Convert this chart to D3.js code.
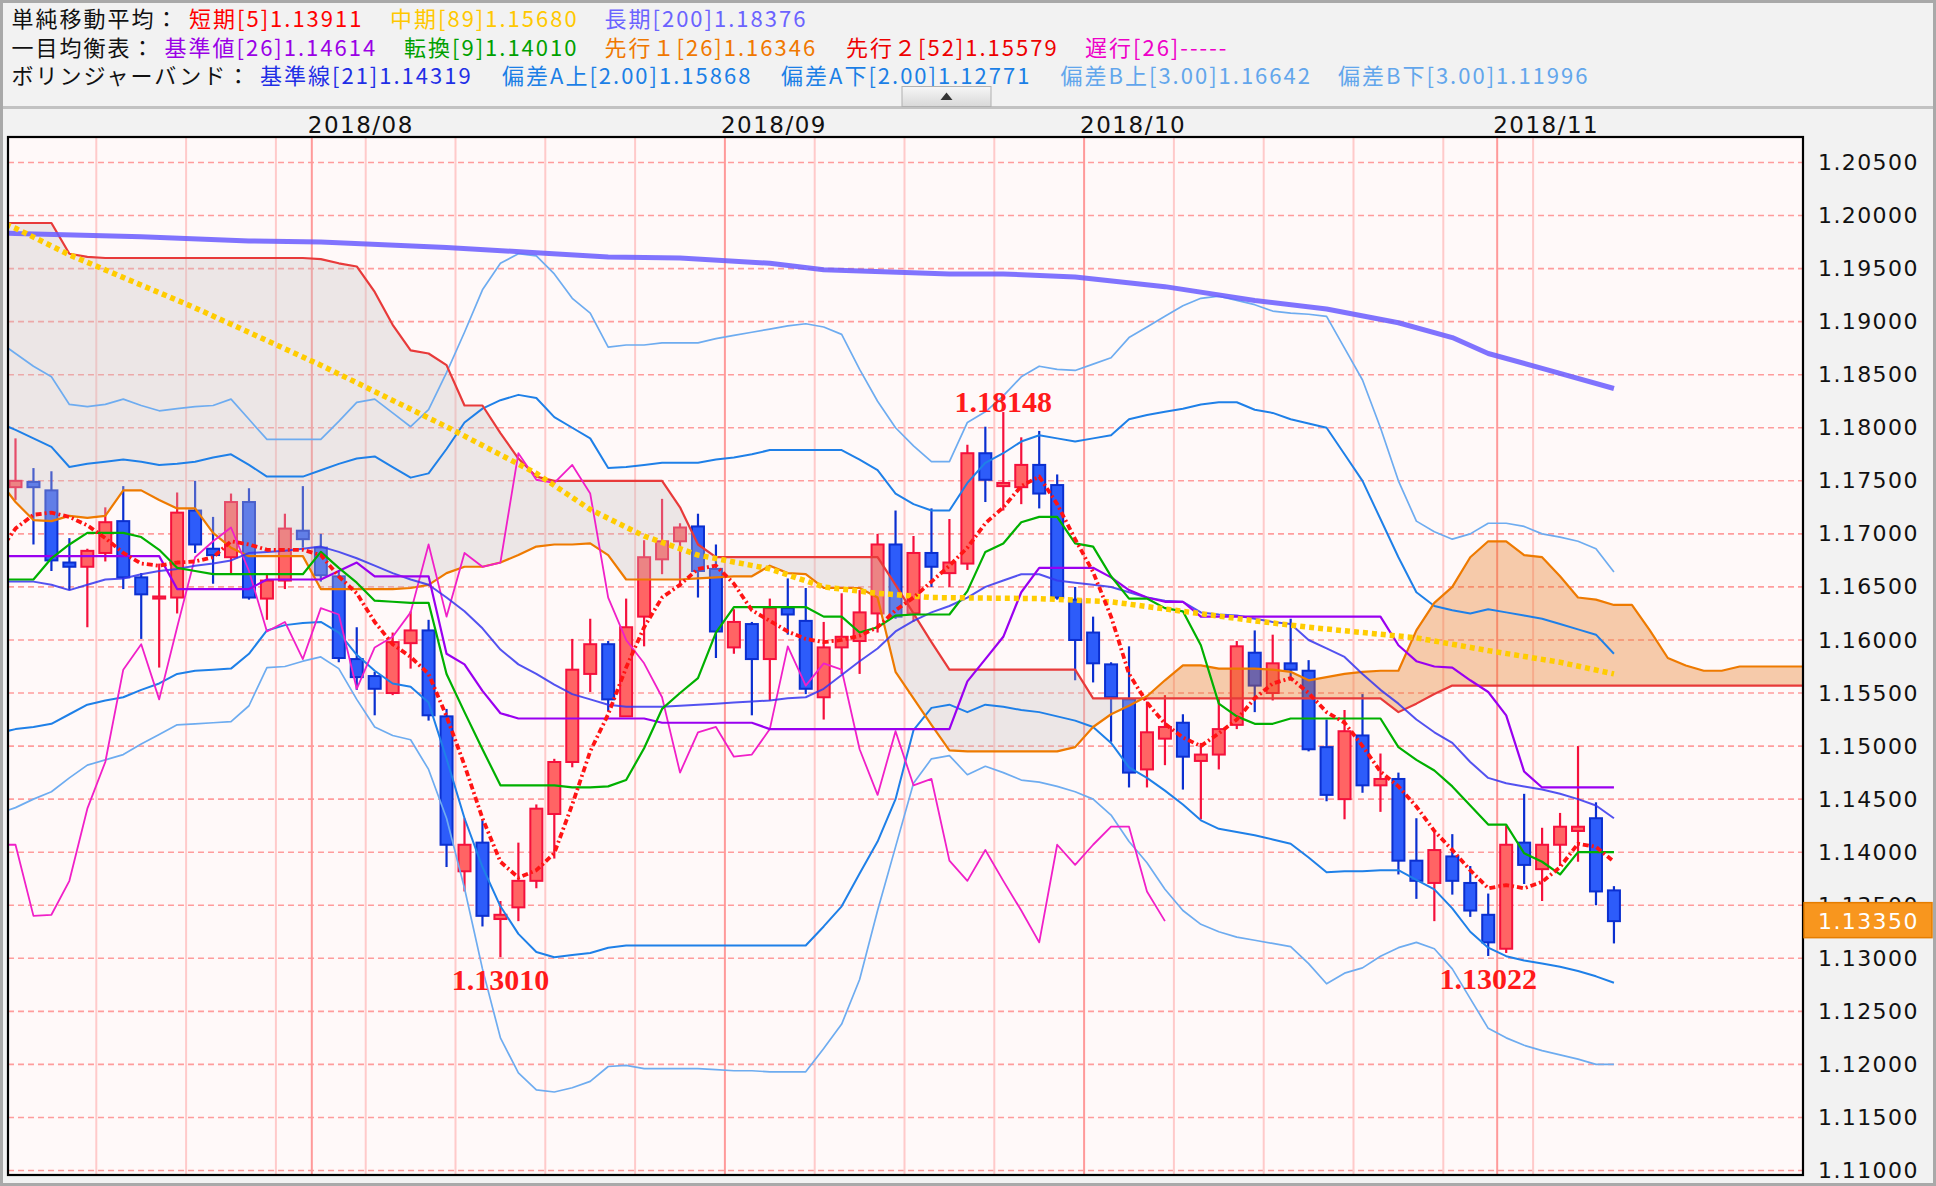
<!DOCTYPE html>
<html><head><meta charset="utf-8">
<script src="https://cdn.jsdelivr.net/npm/d3@7/dist/d3.min.js"></script>
<style>
html,body{margin:0;padding:0;background:#f2f2f2;}
svg{display:block;}
</style></head><body>
<svg id="c" width="1936" height="1186"></svg>
<script>
// ---------------- DATA ----------------
// daily candles, index 0 = 2018-07-09 ... index 89 = 2018-11-09
const opens = [1.1744,1.1749,1.1741,1.1673,1.1669,1.1682,1.1712,1.1659,1.1639,1.1640,1.1722,1.1686,1.1678,1.1730,1.1639,1.1656,1.1703,1.1687,1.1660,1.1582,1.1566,1.1550,1.1597,1.1609,1.1528,1.1382,1.1409,1.1337,1.1348,1.1373,1.1436,1.1485,1.1568,1.1596,1.1528,1.1622,1.1676,1.1693,1.1707,1.1667,1.1593,1.1615,1.1582,1.1630,1.1618,1.1546,1.1593,1.1599,1.1625,1.1690,1.1625,1.1682,1.1663,1.1672,1.1776,1.1745,1.1744,1.1765,1.1746,1.1638,1.1607,1.1577,1.1544,1.1478,1.1507,1.1522,1.1486,1.1492,1.1520,1.1588,1.1550,1.1578,1.1571,1.1499,1.1450,1.1510,1.1463,1.1469,1.1392,1.1371,1.1396,1.1371,1.1341,1.1309,1.1409,1.1384,1.1407,1.1420,1.1432,1.1364];
const highs = [1.1790,1.1762,1.1759,1.1696,1.1686,1.1725,1.1745,1.1663,1.1672,1.1739,1.1750,1.1716,1.1738,1.1743,1.1663,1.1719,1.1745,1.1700,1.1664,1.1612,1.1570,1.1607,1.1627,1.1619,1.1535,1.1432,1.1430,1.1354,1.1409,1.1445,1.1488,1.1601,1.1620,1.1599,1.1639,1.1694,1.1733,1.1710,1.1719,1.1690,1.1629,1.1617,1.1639,1.1658,1.1649,1.1617,1.1644,1.1647,1.1700,1.1722,1.1698,1.1724,1.1714,1.1784,1.1801,1.18148,1.1791,1.1797,1.1756,1.1650,1.1622,1.1579,1.1594,1.1542,1.1548,1.1530,1.1503,1.1546,1.1599,1.1609,1.1605,1.1620,1.1581,1.1525,1.1534,1.1549,1.1493,1.1475,1.1432,1.1420,1.1417,1.1387,1.1361,1.1425,1.1455,1.1423,1.1437,1.1500,1.1447,1.1368];
const lows = [1.1732,1.1690,1.1665,1.1647,1.1612,1.1674,1.1648,1.1601,1.1574,1.1625,1.1682,1.1653,1.1662,1.1638,1.1619,1.1648,1.1687,1.1655,1.1579,1.1553,1.1529,1.1548,1.1573,1.1524,1.1386,1.1363,1.1330,1.1301,1.1335,1.1366,1.1394,1.1480,1.1551,1.1533,1.1528,1.1594,1.1662,1.1650,1.1640,1.1583,1.1587,1.1529,1.1543,1.1605,1.1549,1.1525,1.1568,1.1568,1.1607,1.1620,1.1617,1.1650,1.1650,1.1666,1.1730,1.1722,1.1728,1.1724,1.1638,1.1562,1.1560,1.1504,1.1461,1.1461,1.1482,1.1459,1.1431,1.1478,1.1516,1.1532,1.1543,1.1565,1.1495,1.1448,1.1431,1.1456,1.1438,1.1379,1.1356,1.1335,1.1360,1.1339,1.13022,1.1305,1.1370,1.1354,1.1387,1.1391,1.1350,1.1314];
const closes = [1.1750,1.1744,1.1675,1.1669,1.1684,1.1711,1.1659,1.1643,1.1641,1.1720,1.1690,1.1680,1.1730,1.1640,1.1656,1.1705,1.1695,1.1661,1.1583,1.1565,1.1554,1.1598,1.1609,1.1529,1.1407,1.1407,1.1340,1.1341,1.1373,1.1441,1.1485,1.1572,1.1596,1.1544,1.1612,1.1678,1.1693,1.1706,1.1665,1.1608,1.1617,1.1582,1.1630,1.1624,1.1554,1.1593,1.1603,1.1626,1.1690,1.1622,1.1682,1.1669,1.1673,1.1776,1.1751,1.1748,1.1765,1.1738,1.1640,1.1600,1.1578,1.1546,1.1475,1.1513,1.1518,1.1490,1.1492,1.1516,1.1594,1.1557,1.1578,1.1572,1.1497,1.1454,1.1514,1.1463,1.1469,1.1392,1.1373,1.1402,1.1373,1.1345,1.1315,1.1407,1.1388,1.1407,1.1424,1.1424,1.1363,1.1335];

// indicator lines; the first value of each array is at candle index -1
const sma5 = [1.1681,1.1705,1.1718,1.1720,1.1716,1.1708,1.1696,1.1682,1.1672,1.1670,1.1673,1.1674,1.1678,1.1693,1.1690,1.1685,1.1685,1.1685,1.1680,1.1660,1.1644,1.1617,1.1596,1.1584,1.1568,1.1528,1.1482,1.1432,1.1391,1.1376,1.1383,1.1399,1.1445,1.1495,1.1530,1.1574,1.1612,1.1640,1.1652,1.1667,1.1670,1.1653,1.1628,1.1618,1.1608,1.1601,1.1598,1.1600,1.1604,1.1612,1.1628,1.1640,1.1655,1.1670,1.1687,1.1710,1.1725,1.1745,1.1754,1.1728,1.1695,1.1664,1.1622,1.1568,1.1541,1.1521,1.1508,1.1500,1.1512,1.1525,1.1545,1.1559,1.1564,1.1550,1.1532,1.1522,1.1500,1.1476,1.1462,1.1443,1.1420,1.1402,1.1383,1.1366,1.1369,1.1366,1.1372,1.1386,1.1408,1.1405,1.1391];
const tenkan = [1.1657,1.1657,1.1657,1.1677,1.1690,1.1701,1.1701,1.1701,1.1697,1.1685,1.1668,1.1665,1.1662,1.1662,1.1662,1.1662,1.1662,1.1662,1.1683,1.1668,1.1654,1.1637,1.1636,1.1635,1.1635,1.1568,1.1532,1.1497,1.1463,1.1463,1.1463,1.1463,1.1461,1.1461,1.1462,1.1468,1.1498,1.1535,1.1550,1.1564,1.1607,1.1631,1.1631,1.1631,1.1631,1.1631,1.1622,1.1622,1.1607,1.1612,1.1623,1.1624,1.1624,1.1624,1.1646,1.1683,1.1691,1.1711,1.1716,1.1716,1.1691,1.1688,1.1660,1.1639,1.1639,1.1630,1.1627,1.1595,1.1540,1.1528,1.1521,1.1521,1.1526,1.1526,1.1526,1.1526,1.1526,1.1526,1.1499,1.1487,1.1477,1.1462,1.1444,1.1426,1.1426,1.1399,1.1391,1.1379,1.1400,1.1400,1.1400];
const kijun = [1.1679,1.1679,1.1679,1.1679,1.1679,1.1679,1.1679,1.1679,1.1679,1.1679,1.1648,1.1648,1.1648,1.1648,1.1648,1.1657,1.1657,1.1657,1.1657,1.1665,1.1673,1.1660,1.1660,1.1660,1.1660,1.1587,1.1577,1.1552,1.1531,1.1526,1.1526,1.1526,1.1526,1.1526,1.1526,1.1526,1.1526,1.1522,1.1522,1.1522,1.1522,1.1522,1.1522,1.1516,1.1516,1.1516,1.1516,1.1516,1.1516,1.1516,1.1516,1.1516,1.1516,1.1516,1.1561,1.1582,1.1603,1.1645,1.1668,1.1668,1.1668,1.1668,1.1659,1.1647,1.1640,1.1636,1.1636,1.1622,1.1622,1.1622,1.1622,1.1622,1.1622,1.1622,1.1622,1.1622,1.1622,1.1622,1.1595,1.1580,1.1575,1.1574,1.1562,1.1551,1.1529,1.1476,1.1461,1.1461,1.1461,1.1461,1.1461];
// leading spans, index -1 ... 100
const senkouA = [1.1752,1.1730,1.1713,1.1712,1.1717,1.1715,1.1717,1.1741,1.1741,1.1732,1.1724,1.1724,1.1701,1.1687,1.1679,1.1679,1.1679,1.1679,1.1648,1.1648,1.1648,1.1648,1.1648,1.1649,1.1652,1.1663,1.1669,1.1669,1.1673,1.1680,1.1688,1.1690,1.1690,1.1691,1.1680,1.1657,1.1657,1.1657,1.1657,1.1658,1.1659,1.1660,1.1660,1.1670,1.1663,1.1662,1.1649,1.1649,1.1649,1.1640,1.1570,1.1545,1.1520,1.1496,1.1495,1.1495,1.1495,1.1495,1.1495,1.1495,1.1499,1.1518,1.1530,1.1538,1.1547,1.1562,1.1576,1.1576,1.1573,1.1573,1.1573,1.1572,1.1570,1.1562,1.1565,1.1568,1.1570,1.1571,1.1571,1.1609,1.1635,1.1650,1.1678,1.1693,1.1693,1.1680,1.1678,1.1660,1.1640,1.1638,1.1633,1.1633,1.1609,1.1583,1.1576,1.1571,1.1571,1.1575,1.1575,1.1575,1.1575,1.1575];
const senkouB = [1.1993,1.1993,1.1993,1.1993,1.1964,1.1961,1.1960,1.1960,1.1960,1.1960,1.1960,1.1960,1.1960,1.1960,1.1960,1.1960,1.1960,1.1960,1.1959,1.1955,1.1952,1.1928,1.1897,1.1873,1.1870,1.1859,1.1821,1.1821,1.1795,1.1771,1.1754,1.1750,1.1750,1.1750,1.1750,1.1750,1.1750,1.1750,1.1725,1.1690,1.1678,1.1678,1.1678,1.1678,1.1678,1.1678,1.1678,1.1678,1.1678,1.1678,1.1652,1.1625,1.1598,1.1572,1.1572,1.1572,1.1572,1.1572,1.1572,1.1572,1.1572,1.1545,1.1545,1.1545,1.1545,1.1545,1.1545,1.1545,1.1545,1.1545,1.1545,1.1545,1.1545,1.1545,1.1545,1.1545,1.1545,1.1545,1.1532,1.1540,1.1549,1.1557,1.1557,1.1557,1.1557,1.1557,1.1557,1.1557,1.1557,1.1557,1.1557,1.1557,1.1557,1.1557,1.1557,1.1557,1.1557,1.1557,1.1557,1.1557,1.1557,1.1557];
// lagging span, index -1 ... 64
const chikou = [1.1407,1.1407,1.1340,1.1341,1.1373,1.1441,1.1485,1.1572,1.1596,1.1544,1.1612,1.1678,1.1693,1.1706,1.1665,1.1608,1.1617,1.1582,1.1630,1.1624,1.1554,1.1593,1.1603,1.1626,1.1690,1.1622,1.1682,1.1669,1.1673,1.1776,1.1751,1.1748,1.1765,1.1738,1.1640,1.1600,1.1578,1.1546,1.1475,1.1513,1.1518,1.1490,1.1492,1.1516,1.1594,1.1557,1.1578,1.1572,1.1497,1.1454,1.1514,1.1463,1.1469,1.1392,1.1373,1.1402,1.1373,1.1345,1.1315,1.1407,1.1388,1.1407,1.1424,1.1424,1.1363,1.1335];
// Bollinger bands, index -1 ... 89
const bbMid = [1.1655,1.1655,1.1655,1.1652,1.1647,1.1652,1.1657,1.1658,1.1662,1.1665,1.1667,1.1670,1.1672,1.1675,1.1682,1.1683,1.1684,1.1686,1.1688,1.1683,1.1677,1.1670,1.1663,1.1657,1.1652,1.1640,1.1627,1.1611,1.1591,1.1577,1.1568,1.1558,1.1549,1.1544,1.1539,1.1537,1.1537,1.1537,1.1538,1.1539,1.1540,1.1541,1.1542,1.1543,1.1545,1.1546,1.1554,1.1567,1.1580,1.1592,1.1608,1.1618,1.1626,1.1632,1.1640,1.1650,1.1656,1.1662,1.1662,1.1656,1.1654,1.1652,1.1650,1.1645,1.1640,1.1637,1.1636,1.1626,1.1624,1.1623,1.1620,1.1617,1.1615,1.1600,1.1592,1.1584,1.1568,1.1553,1.1540,1.1525,1.1513,1.1503,1.1485,1.1470,1.1465,1.1462,1.1459,1.1455,1.1450,1.1444,1.1432];
const bbUp2 = [1.1805,1.1798,1.1790,1.1782,1.1763,1.1766,1.1768,1.1770,1.1768,1.1765,1.1766,1.1768,1.1772,1.1775,1.1765,1.1754,1.1754,1.1754,1.1760,1.1766,1.1771,1.1773,1.1763,1.1753,1.1757,1.1780,1.1805,1.1818,1.1826,1.1831,1.1828,1.1810,1.1800,1.1790,1.1762,1.1763,1.1765,1.1767,1.1767,1.1767,1.1770,1.1772,1.1775,1.1779,1.1779,1.1779,1.1779,1.1779,1.1770,1.1760,1.1738,1.1728,1.1722,1.1722,1.1748,1.1767,1.1776,1.1787,1.1793,1.1790,1.1787,1.1790,1.1793,1.1808,1.1812,1.1815,1.1818,1.1822,1.1824,1.1824,1.1817,1.1814,1.1808,1.1804,1.1800,1.1775,1.1750,1.1714,1.1678,1.1645,1.1632,1.1628,1.1625,1.1629,1.1626,1.1623,1.1620,1.1615,1.1610,1.1605,1.1587];
const bbUp3 = [1.1882,1.1870,1.1858,1.1848,1.1822,1.1820,1.1822,1.1827,1.1821,1.1816,1.1818,1.1820,1.1821,1.1827,1.1808,1.1789,1.1789,1.1789,1.1789,1.1806,1.1824,1.1827,1.1814,1.1801,1.1817,1.1852,1.1890,1.1930,1.1955,1.1964,1.1962,1.1945,1.1922,1.1908,1.1876,1.1878,1.1878,1.1880,1.1880,1.1880,1.1884,1.1887,1.1890,1.1893,1.1896,1.1898,1.1895,1.1888,1.1855,1.1825,1.1800,1.1783,1.1768,1.1768,1.1805,1.1815,1.1830,1.1848,1.1858,1.1855,1.1854,1.1860,1.1866,1.1885,1.1895,1.1905,1.1915,1.1922,1.1924,1.1920,1.1916,1.1910,1.1908,1.1907,1.1905,1.1875,1.1845,1.1800,1.1750,1.1712,1.1702,1.1695,1.1700,1.1710,1.1710,1.1707,1.1700,1.1697,1.1693,1.1686,1.1664];
const bbDn2 = [1.1512,1.1516,1.1518,1.1521,1.1530,1.1539,1.1543,1.1546,1.1553,1.1559,1.1568,1.1571,1.1572,1.1573,1.1587,1.1609,1.1614,1.1616,1.1617,1.1607,1.1586,1.1571,1.1559,1.1556,1.1541,1.1488,1.1432,1.1386,1.1349,1.1323,1.1306,1.1301,1.1303,1.1305,1.1310,1.1312,1.1312,1.1312,1.1312,1.1312,1.1312,1.1312,1.1312,1.1312,1.1312,1.1312,1.1330,1.1349,1.1380,1.1410,1.1450,1.1515,1.1536,1.1539,1.1532,1.1539,1.1537,1.1534,1.1532,1.1528,1.1524,1.1518,1.1503,1.1480,1.1470,1.1458,1.1445,1.1430,1.1422,1.1419,1.1416,1.1412,1.1408,1.1395,1.1381,1.1382,1.1382,1.1383,1.1383,1.1374,1.1365,1.1347,1.1325,1.1310,1.1302,1.1298,1.1295,1.1292,1.1288,1.1283,1.1277];
const bbDn3 = [1.1436,1.1442,1.1450,1.1457,1.1470,1.1482,1.1487,1.1492,1.1502,1.1511,1.1520,1.1521,1.1522,1.1523,1.1538,1.1574,1.1575,1.1580,1.1584,1.1573,1.1544,1.1518,1.1510,1.1506,1.1478,1.1432,1.1366,1.1290,1.1225,1.1192,1.1176,1.1174,1.1178,1.1184,1.1198,1.1199,1.1196,1.1196,1.1196,1.1196,1.1195,1.1194,1.1194,1.1193,1.1193,1.1193,1.1215,1.1238,1.1280,1.1345,1.1405,1.1465,1.1488,1.1491,1.1473,1.1481,1.1475,1.1468,1.1466,1.1462,1.1457,1.1450,1.1435,1.1410,1.1390,1.1365,1.1345,1.1332,1.1325,1.1320,1.1317,1.1314,1.1311,1.1295,1.1276,1.1286,1.1291,1.1302,1.1310,1.1315,1.1309,1.1290,1.1262,1.1234,1.1225,1.1218,1.1213,1.1209,1.1205,1.1200,1.1200];
// smooth moving averages: vertices read as (candle index, value)
const sma89Idx = [-1,0,3,10,17,24,29,32,35,38,42,45,48,51,57,61,65,69,72,78,82,86,89];
const sma89Val = [1.1995,1.1988,1.1963,1.1913,1.1859,1.1801,1.1757,1.1723,1.1698,1.1680,1.1667,1.1650,1.1644,1.1640,1.1639,1.1636,1.1627,1.1618,1.1612,1.1602,1.1590,1.1579,1.1568];
const sma200Idx = [-1,0,7,13,17,24,29,33,37,42,45,52,55,59,64,69,73,77,80,82,85,89];
const sma200Val = [1.1984,1.1983,1.1980,1.1976,1.1975,1.1970,1.1965,1.1961,1.1960,1.1955,1.1949,1.1945,1.1945,1.1942,1.1933,1.1920,1.1912,1.1899,1.1885,1.1870,1.1856,1.1837];

const priceTicks = [1.205,1.2,1.195,1.19,1.185,1.18,1.175,1.17,1.165,1.16,1.155,1.15,1.145,1.14,1.135,1.13,1.125,1.12,1.115,1.11];
const monthLabels = ["2018/08","2018/09","2018/10","2018/11"];
const monthStartIdx = [17,40,60,83];
const weekStartIdx = [5,10,15,20,25,30,35,45,50,55,65,70,75,80,85];
const currentPrice = 1.13350;
const highMark = {i:55, v:1.18148};
const lowMarks = [{i:27, v:1.13010},{i:82, v:1.13022}];

const legendRows = [
  [["単純移動平均：","#111"],["短期[5]1.13911","#ff0000"],["中期[89]1.15680","#ffc800"],["長期[200]1.18376","#6b63ff"]],
  [["一目均衡表：","#111"],["基準値[26]1.14614","#9a00e6"],["転換[9]1.14010","#00a000"],["先行１[26]1.16346","#f07800"],["先行２[52]1.15579","#ee0000"],["遅行[26]-----","#ee00c8"]],
  [["ボリンジャーバンド：","#111"],["基準線[21]1.14319","#1f2fe6"],["偏差A上[2.00]1.15868","#1b7fe6"],["偏差A下[2.00]1.12771","#1b7fe6"],["偏差B上[3.00]1.16642","#62a6ec"],["偏差B下[3.00]1.11996","#62a6ec"]]
];
// layout of legend items (x positions)
const legendX = [[11.5,189,390,604.5],[11.5,164.5,404,604.5,846,1085],[11.5,260,502,781,1060.5,1338]];
const legendY = [27,55.5,84];

// ---------------- DRAW ----------------
const svg = d3.select("#c");
const P = {l:8, t:137, r:1803, b:1175};
const x = d3.scaleLinear().domain([0,89]).range([15.5, 15.5+17.96*89]);
const y = d3.scaleLinear().domain([1.11,1.205]).range([1170.5,162.5]);

svg.append("rect").attr("width",1936).attr("height",1186).attr("fill","#f2f2f2");

// header
const hdr = svg.append("g").attr("font-family","'Noto Sans CJK JP','Noto Sans',sans-serif").attr("font-size",22).attr("letter-spacing","2px");
legendRows.forEach((row,r)=>{
  row.forEach((item,k)=>{
    hdr.append("text").attr("x",legendX[r][k]).attr("y",legendY[r]).attr("fill",item[1]).text(item[0]);
  });
});
svg.append("line").attr("x1",0).attr("x2",1936).attr("y1",107.5).attr("y2",107.5).attr("stroke","#c2c2c2").attr("stroke-width",3);
// collapse button
const defs = svg.append("defs");
const grad = defs.append("linearGradient").attr("id","bg").attr("x1",0).attr("x2",0).attr("y1",0).attr("y2",1);
grad.append("stop").attr("offset","0%").attr("stop-color","#f6f6f6");
grad.append("stop").attr("offset","100%").attr("stop-color","#d9d9d9");
svg.append("rect").attr("x",902).attr("y",86.5).attr("width",89).attr("height",20).attr("fill","url(#bg)").attr("stroke","#b0b0b0");
svg.append("path").attr("d","M940.5,100 L946.5,92.5 L952.5,100 Z").attr("fill","#333");

// plot background
svg.append("rect").attr("x",P.l).attr("y",P.t).attr("width",P.r-P.l).attr("height",P.b-P.t).attr("fill","#fff9f9");
defs.append("clipPath").attr("id","pc").append("rect").attr("x",P.l+1).attr("y",P.t+1).attr("width",P.r-P.l-2).attr("height",P.b-P.t-2);
const g = svg.append("g").attr("clip-path","url(#pc)");

// grid
g.selectAll("line.h").data(priceTicks).join("line").attr("class","h")
  .attr("x1",P.l).attr("x2",P.r).attr("y1",d=>y(d)).attr("y2",d=>y(d))
  .attr("stroke","#ff9d9d").attr("stroke-width",1.6).attr("stroke-dasharray","6,4");
g.selectAll("line.w").data(weekStartIdx).join("line").attr("class","w")
  .attr("x1",d=>x(d)-9).attr("x2",d=>x(d)-9).attr("y1",P.t).attr("y2",P.b)
  .attr("stroke","#ffcaca").attr("stroke-width",2);
g.selectAll("line.m").data(monthStartIdx).join("line").attr("class","m")
  .attr("x1",d=>x(d)-9).attr("x2",d=>x(d)-9).attr("y1",P.t).attr("y2",P.b)
  .attr("stroke","#ff9a9a").attr("stroke-width",2);

// candles
const candles = opens.map((o,i)=>({i,o,h:highs[i],l:lows[i],c:closes[i]}));
const cg = g.append("g");
candles.forEach(d=>{
  const up = d.c>=d.o;
  const stroke = up? "#f5103c" : "#0b2fd0";
  const fill = up? "#ff6464" : "#2d5cfa";
  cg.append("line").attr("x1",x(d.i)).attr("x2",x(d.i)).attr("y1",y(d.h)).attr("y2",y(d.l)).attr("stroke",stroke).attr("stroke-width",2.2);
  const top = y(Math.max(d.o,d.c)), bot = y(Math.min(d.o,d.c));
  const hgt = Math.max(2, bot-top);
  cg.append("rect").attr("x",x(d.i)-6).attr("y",top).attr("width",12).attr("height",hgt)
    .attr("fill",fill).attr("stroke",stroke).attr("stroke-width",2);
});

// cloud
const cloud = senkouA.map((a,k)=>({i:k-1,a,b:senkouB[k]}));
defs.append("clipPath").attr("id","aboveB").append("path")
  .attr("d", d3.area().x(d=>x(d.i)).y0(P.t-5).y1(d=>y(d.b))(cloud));
defs.append("clipPath").attr("id","belowB").append("path")
  .attr("d", d3.area().x(d=>x(d.i)).y0(d=>y(d.b)).y1(P.b+5)(cloud));
const areaAB = d3.area().x(d=>x(d.i)).y0(d=>y(d.a)).y1(d=>y(d.b));
g.append("g").attr("clip-path","url(#aboveB)").append("path").attr("d",areaAB(cloud)).attr("fill","rgba(229,115,23,0.35)");
g.append("g").attr("clip-path","url(#belowB)").append("path").attr("d",areaAB(cloud)).attr("fill","rgba(200,194,194,0.34)");

// lines
const seq = (arr,start)=>arr.map((v,k)=>({i:k+start,v}));
const pairs = (idx,val)=>idx.map((i,k)=>({i,v:val[k]}));
const ln = d3.line().x(d=>x(d.i)).y(d=>y(d.v));
function drawLine(data, color, width, dash, opacity){
  const p = g.append("path").attr("d",ln(data)).attr("fill","none").attr("stroke",color).attr("stroke-width",width).attr("stroke-linejoin","round");
  if(dash) p.attr("stroke-dasharray",dash);
  if(opacity) p.attr("opacity",opacity);
}
drawLine(seq(bbUp3,-1),"#6eacf0",1.7);
drawLine(seq(bbDn3,-1),"#6eacf0",1.7);
drawLine(seq(bbUp2,-1),"#1f80e8",2);
drawLine(seq(bbDn2,-1),"#1f80e8",2);
drawLine(seq(senkouB,-1),"#e83a3a",2.2);
drawLine(seq(senkouA,-1),"#ee7a00",2.2);
drawLine(seq(chikou,-1),"#f020c8",1.8);
drawLine(seq(bbMid,-1),"#3535ee",2,null,0.85);
drawLine(seq(kijun,-1),"#9a00f0",2.2);
drawLine(seq(tenkan,-1),"#00b000",2.2);
drawLine(pairs(sma200Idx,sma200Val),"#6a5cff",5,null,0.85);
drawLine(pairs(sma89Idx,sma89Val),"#ffcc00",5.5,"5,4");
drawLine(seq(sma5,-1),"#ff1414",3.8,"6,3,2,3");

// price markers
const mg = g.append("g").attr("font-family","'Liberation Serif','DejaVu Serif',serif").attr("font-weight","bold").attr("font-size",30).attr("fill","#ff1a1a").attr("text-anchor","middle");
mg.append("text").attr("x",x(highMark.i)).attr("y",y(highMark.v)).text(highMark.v.toFixed(5));
lowMarks.forEach(m=>mg.append("text").attr("x",x(m.i)).attr("y",y(m.v)+33).text(m.v.toFixed(5)));

// plot frame
svg.append("rect").attr("x",P.l).attr("y",P.t).attr("width",P.r-P.l).attr("height",P.b-P.t).attr("fill","none").attr("stroke","#000").attr("stroke-width",2.2);

// y axis (right)
defs.append("clipPath").attr("id","ac").append("rect").attr("x",1805).attr("y",110).attr("width",130).attr("height",1071);
const ax = svg.append("g").attr("clip-path","url(#ac)").append("g").attr("transform","translate(1818,0)")
  .call(d3.axisRight(y).tickValues(priceTicks).tickFormat(d3.format(".5f")).tickSize(0).tickPadding(0));
ax.select(".domain").remove();
ax.selectAll("text").attr("font-family","'DejaVu Sans',sans-serif").attr("font-size",22).attr("letter-spacing","1.4px").attr("fill","#111").attr("x",0);

// current price box
svg.append("rect").attr("x",1804).attr("y",y(currentPrice)-18.5).attr("width",128).attr("height",35).attr("fill","#f8961e").attr("stroke","#e57d00").attr("stroke-width",1.5);
svg.append("text").attr("x",1818).attr("y",y(currentPrice)).attr("dy","0.36em").attr("font-family","'DejaVu Sans',sans-serif").attr("font-size",22).attr("letter-spacing","1.4px").attr("fill","#fff").text(currentPrice.toFixed(5));

// month labels (top)
svg.append("g").selectAll("text").data(monthLabels).join("text")
  .attr("x",(d,k)=>x(monthStartIdx[k])-13).attr("y",133)
  .attr("font-family","'DejaVu Sans',sans-serif").attr("font-size",23).attr("letter-spacing","1.5px").attr("fill","#111").text(d=>d);

// outer border
svg.append("rect").attr("x",1.5).attr("y",1.5).attr("width",1933).attr("height",1183).attr("fill","none").attr("stroke","#a9a9a9").attr("stroke-width",3);
</script>
</body></html>
